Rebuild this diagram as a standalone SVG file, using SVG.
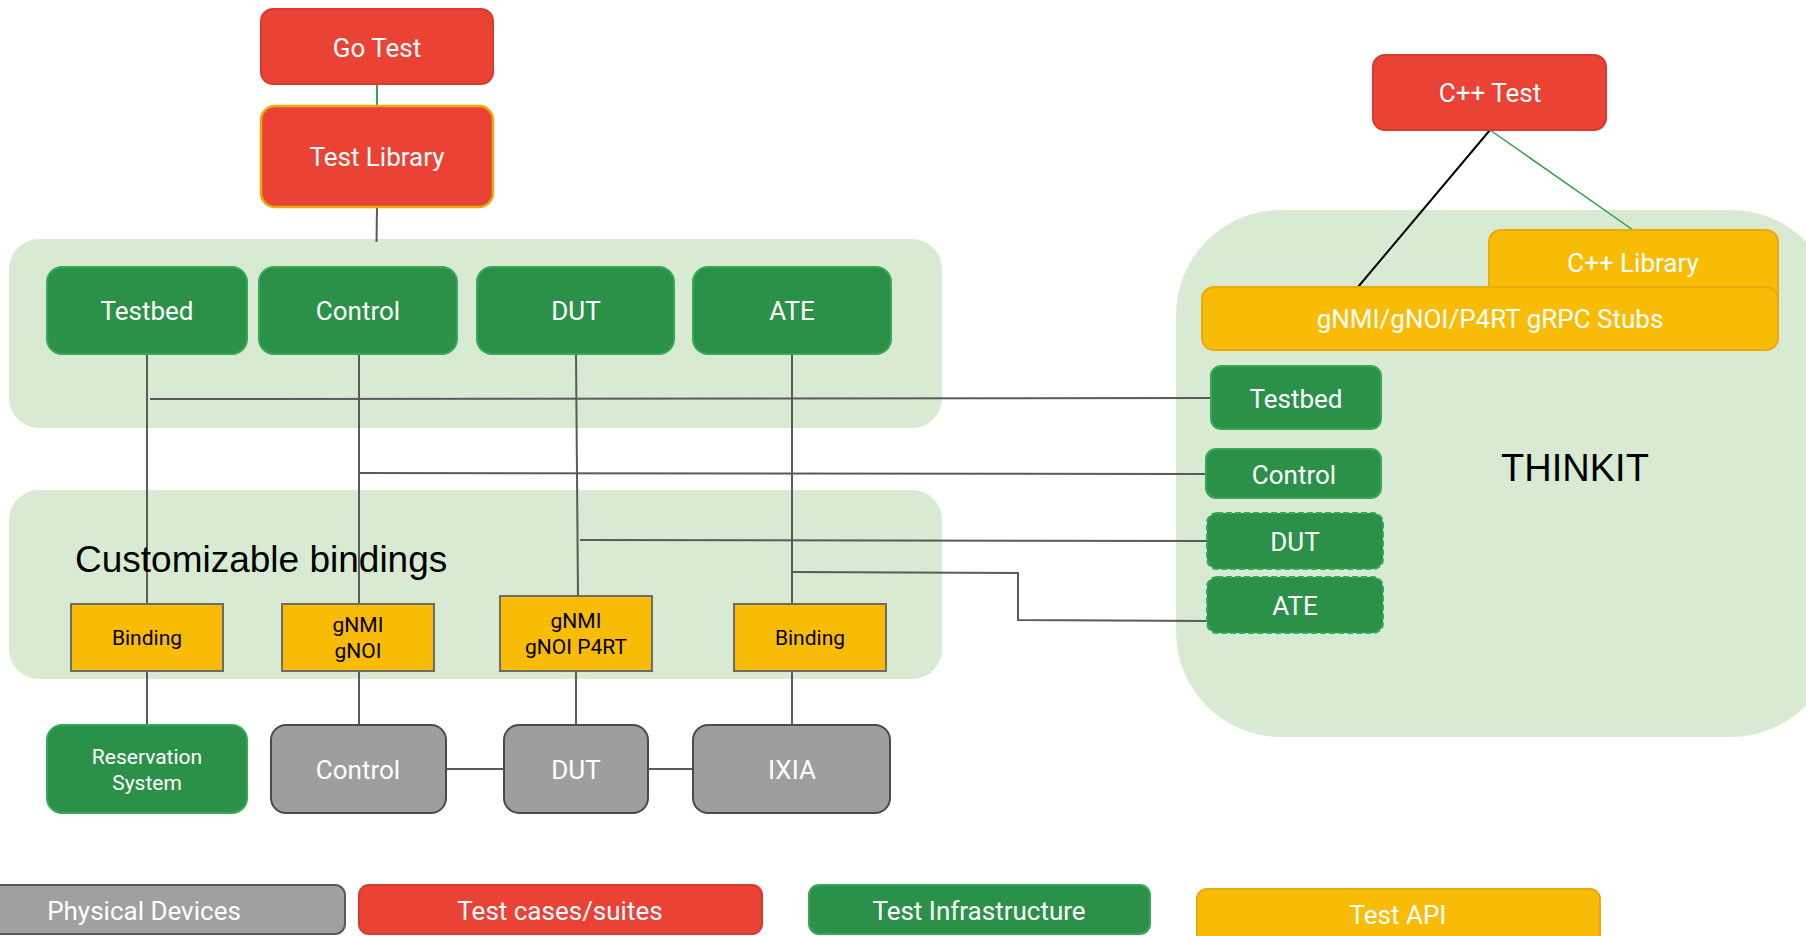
<svg xmlns="http://www.w3.org/2000/svg" width="1806" height="936" viewBox="0 0 1806 936">
  <style>
    .panel { fill: #d9ead3; }
    .red { fill: #ea4335; stroke: #d63b2d; stroke-width: 2; }
    .redlib { fill: #ea4335; stroke: #e8aa0c; stroke-width: 2.5; }
    .green { fill: #2c9148; stroke: #36a956; stroke-width: 2; }
    .dashed { fill: #2c9148; stroke: #36a956; stroke-width: 2; stroke-dasharray: 6 3; }
    .gray { fill: #9e9e9e; stroke: #4a4a4a; stroke-width: 2; }
    .api { fill: #f9bc06; stroke: #e8aa0c; stroke-width: 2; }
    .bind { fill: #f9bc06; stroke: #6b6b6b; stroke-width: 2; }
    .lbl { font-family: Roboto, "Liberation Sans", sans-serif; font-size: 26px; fill: #ffffff; text-anchor: middle; }
    .small { font-family: Roboto, "Liberation Sans", sans-serif; font-size: 21px; fill: #ffffff; text-anchor: middle; }
    .blk { font-family: Roboto, "Liberation Sans", sans-serif; font-size: 21px; fill: #000000; text-anchor: middle; }
    .title { font-family: "Liberation Sans", Arial, sans-serif; fill: #000000; }
    .wire { fill: none; stroke: #5a5a5a; stroke-width: 2; }
  </style>

  <!-- background panels -->
  <rect class="panel" x="9" y="239" width="933" height="189" rx="30"/>
  <rect class="panel" x="9" y="490" width="933" height="189" rx="30"/>
  <rect class="panel" x="1176" y="210" width="660" height="527" rx="105"/>

  <!-- connectors -->
  <g id="connectors">
    <line x1="377" y1="84" x2="377" y2="106" stroke="#34a853" stroke-width="2"/>
    <line class="wire" x1="377" y1="207" x2="376.5" y2="242"/>
    <line class="wire" x1="147" y1="354" x2="147" y2="604"/>
    <line class="wire" x1="359" y1="354" x2="359" y2="604"/>
    <line class="wire" x1="576" y1="354" x2="578" y2="596"/>
    <line class="wire" x1="792" y1="354" x2="792" y2="604"/>
    <line class="wire" x1="150" y1="399" x2="1211" y2="398"/>
    <line class="wire" x1="359" y1="473" x2="1206" y2="474"/>
    <line class="wire" x1="580" y1="540" x2="1207" y2="541"/>
    <polyline class="wire" points="792,572 1018,573 1018,620 1207,621"/>
    <line class="wire" x1="147" y1="671" x2="147" y2="725"/>
    <line class="wire" x1="359" y1="671" x2="359" y2="725"/>
    <line class="wire" x1="576" y1="671" x2="576" y2="725"/>
    <line class="wire" x1="792" y1="671" x2="792" y2="725"/>
    <line class="wire" x1="446" y1="769" x2="504" y2="769"/>
    <line class="wire" x1="648" y1="769" x2="693" y2="769"/>
    <line x1="1490" y1="130" x2="1358" y2="287" stroke="#000000" stroke-width="2"/>
    <line x1="1490" y1="130" x2="1633" y2="230" stroke="#2e9e48" stroke-width="1.5"/>
  </g>

  <!-- test cases -->
  <g id="go-test">
    <rect class="red" x="261" y="9" width="232" height="75" rx="12"/>
    <text class="lbl" x="377" y="57">Go Test</text>
  </g>
  <g id="test-library">
    <rect class="redlib" x="261" y="106" width="232" height="101" rx="14"/>
    <text class="lbl" x="377" y="166">Test Library</text>
  </g>

  <!-- infrastructure row -->
  <g id="testbed">
    <rect class="green" x="47" y="267" width="200" height="87" rx="15"/>
    <text class="lbl" x="147" y="320">Testbed</text>
  </g>
  <g id="control">
    <rect class="green" x="259" y="267" width="198" height="87" rx="15"/>
    <text class="lbl" x="358" y="320">Control</text>
  </g>
  <g id="dut">
    <rect class="green" x="477" y="267" width="197" height="87" rx="15"/>
    <text class="lbl" x="576" y="320">DUT</text>
  </g>
  <g id="ate">
    <rect class="green" x="693" y="267" width="198" height="87" rx="15"/>
    <text class="lbl" x="792" y="320">ATE</text>
  </g>

  <!-- bindings -->
  <text class="title" x="75" y="572" font-size="37">Customizable bindings</text>
  <g id="binding-testbed">
    <rect class="bind" x="71" y="604" width="152" height="67"/>
    <text class="blk" x="147" y="645">Binding</text>
  </g>
  <g id="binding-control">
    <rect class="bind" x="282" y="604" width="152" height="67"/>
    <text class="blk" x="358" y="632">gNMI</text>
    <text class="blk" x="358" y="658">gNOI</text>
  </g>
  <g id="binding-dut">
    <rect class="bind" x="500" y="596" width="152" height="75"/>
    <text class="blk" x="576" y="628">gNMI</text>
    <text class="blk" x="576" y="654">gNOI P4RT</text>
  </g>
  <g id="binding-ate">
    <rect class="bind" x="734" y="604" width="152" height="67"/>
    <text class="blk" x="810" y="645">Binding</text>
  </g>

  <!-- physical side -->
  <g id="reservation-system">
    <rect class="green" x="47" y="725" width="200" height="88" rx="15"/>
    <text class="small" x="147" y="764">Reservation</text>
    <text class="small" x="147" y="790">System</text>
  </g>
  <g id="control-device">
    <rect class="gray" x="271" y="725" width="175" height="88" rx="15"/>
    <text class="lbl" x="358" y="779">Control</text>
  </g>
  <g id="dut-device">
    <rect class="gray" x="504" y="725" width="144" height="88" rx="15"/>
    <text class="lbl" x="576" y="779">DUT</text>
  </g>
  <g id="ixia">
    <rect class="gray" x="693" y="725" width="197" height="88" rx="15"/>
    <text class="lbl" x="792" y="779">IXIA</text>
  </g>

  <!-- ThinKit side -->
  <g id="cpp-test">
    <rect class="red" x="1373" y="55" width="233" height="75" rx="12"/>
    <text class="lbl" x="1490" y="102">C++ Test</text>
  </g>
  <g id="cpp-library">
    <rect class="api" x="1489" y="230" width="289" height="80" rx="12"/>
    <text class="lbl" x="1633" y="272">C++ Library</text>
  </g>
  <g id="grpc-stubs">
    <rect class="api" x="1202" y="287" width="576" height="63" rx="12"/>
    <text class="lbl" x="1490" y="328">gNMI/gNOI/P4RT gRPC Stubs</text>
  </g>
  <g id="thinkit-testbed">
    <rect class="green" x="1211" y="366" width="170" height="63" rx="10"/>
    <text class="lbl" x="1296" y="408">Testbed</text>
  </g>
  <g id="thinkit-control">
    <rect class="green" x="1206" y="449" width="175" height="49" rx="10"/>
    <text class="lbl" x="1294" y="484">Control</text>
  </g>
  <g id="thinkit-dut">
    <rect class="dashed" x="1207" y="513" width="176" height="56" rx="10"/>
    <text class="lbl" x="1295" y="551">DUT</text>
  </g>
  <g id="thinkit-ate">
    <rect class="dashed" x="1207" y="577" width="176" height="56" rx="10"/>
    <text class="lbl" x="1295" y="615">ATE</text>
  </g>
  <text class="title" x="1575" y="481" font-size="38" text-anchor="middle">THINKIT</text>

  <!-- legend -->
  <g id="legend-physical">
    <rect x="-12" y="885" width="357" height="49" rx="10" fill="#a0a0a0" stroke="#595959" stroke-width="2"/>
    <text class="lbl" x="144" y="920">Physical Devices</text>
  </g>
  <g id="legend-tests">
    <rect class="red" x="359" y="885" width="403" height="49" rx="10"/>
    <text class="lbl" x="560" y="920">Test cases/suites</text>
  </g>
  <g id="legend-infra">
    <rect class="green" x="809" y="885" width="341" height="49" rx="10"/>
    <text class="lbl" x="979" y="920">Test Infrastructure</text>
  </g>
  <g id="legend-api">
    <rect class="api" x="1197" y="889" width="403" height="60" rx="10"/>
    <text class="lbl" x="1398" y="924">Test API</text>
  </g>
</svg>
